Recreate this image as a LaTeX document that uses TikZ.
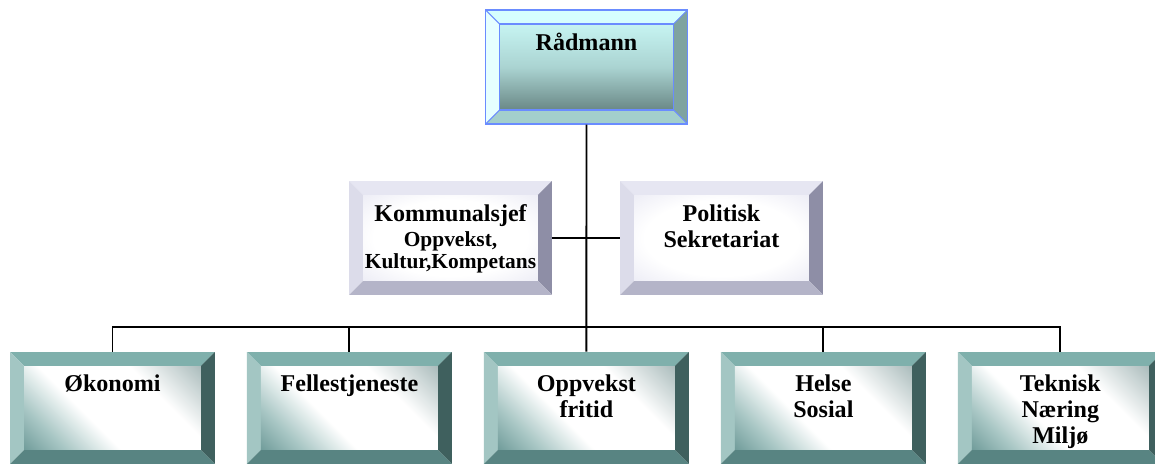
\documentclass[tikz,border=0pt]{standalone}
\usepackage{fontspec}
\setmainfont{Liberation Serif}
\usetikzlibrary{positioning}

\definecolor{radline}{HTML}{6A8CFF}
\definecolor{radtop}{HTML}{D6FEFE}
\definecolor{radleft}{HTML}{E6FFFF}
\definecolor{radright}{HTML}{7FA3A0}
\definecolor{radbottom}{HTML}{A3CFCC}
\definecolor{radhi}{HTML}{C6F4F2}
\definecolor{radlo}{HTML}{6A8886}
\definecolor{stafftop}{HTML}{E6E6F2}
\definecolor{staffleft}{HTML}{DCDCEA}
\definecolor{staffright}{HTML}{8E8EA6}
\definecolor{staffbottom}{HTML}{B4B4C8}
\definecolor{staffshade}{HTML}{DADAEC}
\definecolor{unittop}{HTML}{7FB0AC}
\definecolor{unitleft}{HTML}{A3C6C3}
\definecolor{unitright}{HTML}{3F605E}
\definecolor{unitbottom}{HTML}{588482}
\definecolor{unitdark}{HTML}{6E9A98}
\definecolor{unitmid}{HTML}{A8C6C4}
\definecolor{unitgray}{HTML}{A8BABA}

\pgfdeclareradialshading{staffglow}{\pgfpoint{0bp}{0bp}}{color(0bp)=(white); color(22bp)=(white); color(50bp)=(staffshade)}
\pgfdeclarehorizontalshading{unitglow}{100bp}{color(0bp)=(unitdark); color(14bp)=(unitdark); color(26bp)=(unitmid); color(41bp)=(white); color(66bp)=(white); color(86bp)=(unitgray); color(100bp)=(unitgray)}

\newcommand{\bigf}{\fontsize{13.7pt}{14.8pt}\selectfont\bfseries}
\newcommand{\smallf}{\fontsize{12.2pt}{12.8pt}\selectfont\bfseries}
\newcommand{\boxtext}[1]{\parbox[c][2.24cm][t]{3.8cm}{\centering\vspace*{12.3pt}\strut#1}}

\newcommand{\bw}{0.28cm}
\newcommand{\pp}{path picture bounding box}
\newcommand{\bevel}[5]{%
  \fill[#1] (\pp.north west) -- (\pp.north east) -- ([xshift=-\bw,yshift=-\bw]\pp.north east) -- ([xshift=\bw,yshift=-\bw]\pp.north west) -- cycle;
  \fill[#2] (\pp.north west) -- (\pp.south west) -- ([xshift=\bw,yshift=\bw]\pp.south west) -- ([xshift=\bw,yshift=-\bw]\pp.north west) -- cycle;
  \fill[#3] (\pp.north east) -- (\pp.south east) -- ([xshift=-\bw,yshift=\bw]\pp.south east) -- ([xshift=-\bw,yshift=-\bw]\pp.north east) -- cycle;
  \fill[#4] (\pp.south west) -- (\pp.south east) -- ([xshift=-\bw,yshift=\bw]\pp.south east) -- ([xshift=\bw,yshift=\bw]\pp.south west) -- cycle;
  \shade[#5] ([xshift=\bw,yshift=-\bw]\pp.north west) rectangle ([xshift=-\bw,yshift=\bw]\pp.south east);
}
\newcommand{\bevellines}[1]{%
  \draw[#1] ([xshift=\bw,yshift=-\bw]\pp.north west) rectangle ([xshift=-\bw,yshift=\bw]\pp.south east);
  \draw[#1] (\pp.north west) -- ([xshift=\bw,yshift=-\bw]\pp.north west);
  \draw[#1] (\pp.north east) -- ([xshift=-\bw,yshift=-\bw]\pp.north east);
  \draw[#1] (\pp.south west) -- ([xshift=\bw,yshift=\bw]\pp.south west);
  \draw[#1] (\pp.south east) -- ([xshift=-\bw,yshift=\bw]\pp.south east);
}

\tikzstyle{chief} = [rectangle, minimum width=4.04cm, minimum height=2.28cm, inner sep=0pt, font=\bigf, draw=radline, line width=0.6pt,
  path picture={\bevel{radtop}{radleft}{radright}{radbottom}{top color=radhi, bottom color=radlo, middle color=radhi!70!radlo}\bevellines{radline, line width=0.6pt}}]
\tikzstyle{staff} = [rectangle, minimum width=4.06cm, minimum height=2.28cm, inner sep=0pt, font=\bigf,
  path picture={\bevel{stafftop}{staffleft}{staffright}{staffbottom}{shading=staffglow}}]
\tikzstyle{unit} = [rectangle, minimum width=4.1cm, minimum height=2.24cm, inner sep=0pt, font=\bigf,
  path picture={\bevel{unittop}{unitleft}{unitright}{unitbottom}{shading=unitglow, shading angle=45}}]
\tikzstyle{wire} = [line width=1.1pt, black]

\begin{document}
\begin{tikzpicture}[x=0.02cm, y=-0.02cm, node distance=4.74cm]
\useasboundingbox (0,0) rectangle (1155,465);
%boxes
\node (radmann) [chief] at (586.5,67) {\boxtext{Rådmann}};
\node (kommune) [staff] at (450.5,238) {\boxtext{Kommunalsjef\par{\smallf Oppvekst,\\Kultur,Kompetans\par}}};
\node (politisk) [staff] at (721.5,238) {\boxtext{Politisk\\Sekretariat}};
\node (okonomi) [unit] at (112.5,408) {\boxtext{Økonomi}};
\node (felles) [unit, right of=okonomi] {\boxtext{Fellestjeneste}};
\node (oppvekst) [unit, right of=felles] {\boxtext{Oppvekst\\fritid}};
\node (helse) [unit, right of=oppvekst] {\boxtext{Helse\\Sosial}};
\node (teknisk) [unit, right of=helse] {\boxtext{Teknisk\\Næring\\Miljø}};

%lines
\draw [wire] (radmann) -- (oppvekst);
\draw [wire] (kommune) -- (politisk);
\draw [wire] (okonomi.north) -- ++(0,-25) -| (teknisk.north);
\foreach \n in {felles,helse}
  \draw [wire] (\n.north) -- ++(0,-25);
\end{tikzpicture}
\end{document}
